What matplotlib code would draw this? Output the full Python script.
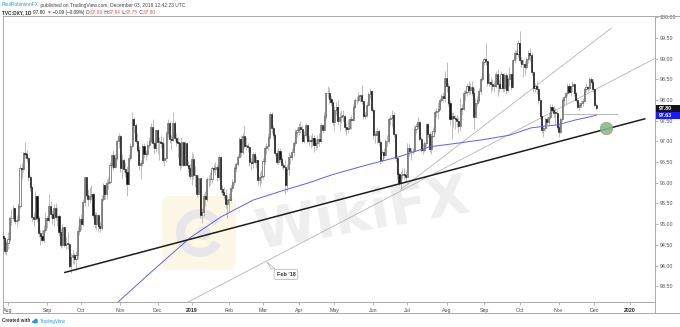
import matplotlib.pyplot as plt
import matplotlib.patches as mpatches
import matplotlib.transforms as mtransforms
import numpy as np
import pandas as pd

# daily candles, one line per month (Jul 27 2018 .. Dec 3 2019)
closes = [
    94.67, 94.35, 94.54,
    94.65, 95.15, 95.14, 95.39, 95.08, 95.11, 95.44, 96.36, 96.34, 96.71, 96.69, 96.59, 96.13, 95.89, 95.18, 95.12, 95.68, 95.15, 94.78, 94.71, 94.61, 94.85, 95.14,
    95.10, 95.45, 95.25, 95.16, 95.40, 95.18, 95.20, 94.80, 94.50, 94.93, 94.50, 94.53, 94.52, 93.99, 94.21, 94.26, 94.15, 94.26, 94.84, 95.13,
    95.00, 95.53, 96.13, 95.70, 95.60, 95.68, 95.73, 95.22, 95.00, 95.22, 94.95, 94.91, 95.60, 95.94, 95.72, 96.00, 96.03, 96.42, 96.66, 96.38, 96.61, 97.00, 97.13,
    96.35, 96.54, 96.34, 96.26, 95.98, 96.61, 96.90, 97.55, 97.39, 97.01, 96.80, 96.43, 96.48, 96.89, 96.70, 96.70, 96.92, 97.00, 97.36, 96.96, 96.83, 97.27,
    96.99, 96.99, 96.97, 96.56, 96.59, 97.20, 97.44, 97.06, 97.04, 97.44, 97.09, 96.98, 96.95, 96.42, 96.98, 96.43, 96.96, 96.44, 96.35, 96.17,
    96.58, 96.18, 96.19, 95.73, 96.12, 95.23, 95.29, 95.67, 95.62, 96.08, 96.09, 96.08, 96.36, 96.34, 96.37, 96.14, 96.62, 95.84, 95.78, 95.71, 95.48, 95.58,
    95.58, 95.87, 96.01, 96.35, 96.46, 96.63, 97.06, 96.75, 97.14, 96.90, 96.90, 96.87, 96.50, 96.47, 96.69, 96.51, 96.54, 96.07, 96.14, 96.16,
    96.52, 96.83, 96.89, 97.11, 97.66, 97.32, 97.15, 96.72, 96.50, 96.78, 96.58, 96.42, 96.38, 95.94, 96.34, 96.63, 96.63, 96.74, 96.95, 97.22, 97.28,
    97.34, 97.30, 97.00, 97.15, 97.39, 97.01, 97.03, 97.00, 97.08, 96.92, 96.97, 97.07, 97.02, 97.40, 97.28, 97.62, 98.16, 98.18, 98.02, 97.95, 97.48,
    97.76, 97.83, 97.49, 97.60, 97.62, 97.62, 97.35, 97.30, 97.33, 97.53, 97.52, 97.84, 97.99, 98.01, 98.09, 98.11, 97.98, 97.62, 97.63, 97.88, 98.15, 98.22, 97.75,
    97.15, 97.15, 97.26, 96.98, 96.54, 96.74, 96.68, 97.00, 97.01, 97.55, 97.57, 97.64, 97.17, 96.61, 96.21, 95.99, 96.18, 96.21, 96.20, 96.13,
    96.85, 96.77, 96.76, 96.78, 97.29, 97.37, 97.48, 97.07, 96.80, 96.80, 96.95, 97.41, 97.19, 96.82, 97.14, 97.26, 97.70, 97.73, 97.79, 98.00, 98.10, 98.06, 98.52,
    98.34, 97.93, 97.53, 97.62, 97.57, 97.55, 97.49, 97.38, 97.79, 97.78, 98.17, 98.20, 98.34, 98.24, 98.31, 98.18, 97.60, 97.92, 98.00, 98.21, 98.51, 98.92,
    99.00, 98.95, 98.42, 98.44, 98.38, 98.34, 98.35, 98.62, 98.39, 98.29, 98.63, 98.28, 98.60, 98.24, 98.50, 98.62, 98.31, 98.97, 99.14, 99.11, 99.38,
    98.97, 98.87, 98.86, 98.79, 98.98, 99.13, 99.09, 98.68, 98.30, 98.33, 98.27, 97.99, 97.61, 97.28, 97.33, 97.53, 97.47, 97.60, 97.83, 97.77, 97.69, 97.68, 97.35,
    97.23, 97.54, 97.99, 98.07, 98.16, 98.35, 98.19, 98.33, 98.38, 98.17, 98.00, 97.83, 97.87, 97.94, 97.97, 98.27, 98.31, 98.28, 98.51, 98.44, 98.27,
    97.89, 97.80,
]
highs = [
    94.80, 94.70, 94.62,
    94.80, 95.20, 95.36, 95.46, 95.40, 95.22, 95.50, 96.45, 96.49, 96.75, 96.98, 96.79, 96.62, 96.20, 95.92, 95.30, 95.80, 95.70, 95.20, 94.85, 94.86, 94.98, 95.29,
    95.20, 95.73, 95.55, 95.35, 95.48, 95.50, 95.42, 95.25, 94.90, 95.00, 94.95, 94.70, 94.80, 94.55, 94.30, 94.40, 94.30, 94.35, 94.95, 95.20,
    95.25, 95.60, 96.15, 96.15, 95.85, 95.90, 95.95, 95.75, 95.30, 95.30, 95.25, 95.05, 95.70, 96.00, 95.98, 96.10, 96.15, 96.50, 96.70, 96.80, 96.70, 97.05, 97.20,
    97.15, 96.70, 96.60, 96.50, 96.40, 96.70, 96.95, 97.70, 97.60, 97.45, 97.20, 96.90, 96.55, 96.95, 96.95, 96.80, 97.00, 97.10, 97.45, 97.55, 97.00, 97.30,
    97.30, 97.10, 97.15, 97.10, 96.95, 97.25, 97.55, 97.50, 97.15, 97.71, 97.50, 97.20, 97.10, 96.95, 97.10, 96.95, 97.00, 96.95, 96.55, 96.45,
    96.75, 96.70, 96.40, 96.20, 96.20, 96.10, 95.40, 95.75, 95.80, 96.15, 96.20, 96.25, 96.40, 96.45, 96.50, 96.45, 96.68, 96.65, 95.95, 95.90, 95.85, 95.70,
    95.75, 95.95, 96.10, 96.40, 96.50, 96.70, 97.10, 97.15, 97.20, 97.37, 97.10, 96.95, 96.90, 96.60, 96.75, 96.75, 96.65, 96.55, 96.25, 96.30,
    96.60, 96.90, 96.95, 97.20, 97.71, 97.70, 97.40, 97.20, 96.80, 96.85, 96.85, 96.65, 96.50, 96.55, 96.45, 96.75, 96.70, 96.85, 97.00, 97.30, 97.35,
    97.45, 97.50, 97.40, 97.25, 97.45, 97.40, 97.15, 97.15, 97.20, 97.15, 97.05, 97.15, 97.20, 97.45, 97.40, 97.70, 98.20, 98.33, 98.30, 98.10, 97.95,
    97.85, 97.95, 98.00, 97.70, 97.75, 97.75, 97.65, 97.45, 97.55, 97.60, 97.65, 97.90, 98.05, 98.10, 98.20, 98.15, 98.37, 98.00, 97.70, 97.95, 98.20, 98.30, 98.25,
    97.80, 97.25, 97.35, 97.30, 97.05, 96.80, 96.85, 97.05, 97.15, 97.60, 97.65, 97.75, 97.70, 97.15, 96.65, 96.25, 96.25, 96.35, 96.35, 96.30,
    96.95, 96.95, 96.85, 96.85, 97.40, 97.45, 97.58, 97.50, 97.10, 96.95, 97.00, 97.45, 97.45, 97.25, 97.20, 97.35, 97.75, 97.80, 97.95, 98.05, 98.15, 98.20, 98.70,
    98.93, 98.40, 98.00, 97.70, 97.70, 97.65, 97.65, 97.60, 98.05, 97.90, 98.25, 98.25, 98.40, 98.45, 98.40, 98.45, 98.30, 98.05, 98.10, 98.30, 98.55, 98.95,
    99.05, 99.37, 98.95, 98.65, 98.55, 98.50, 98.45, 98.70, 98.75, 98.50, 98.70, 98.65, 98.65, 98.65, 98.55, 98.80, 98.65, 99.00, 99.20, 99.20, 99.45,
    99.67, 99.05, 99.00, 98.95, 99.05, 99.20, 99.25, 99.15, 98.70, 98.40, 98.45, 98.35, 98.05, 97.65, 97.40, 97.60, 97.60, 97.70, 97.90, 97.90, 97.85, 97.80, 97.75,
    97.45, 97.60, 98.05, 98.10, 98.20, 98.40, 98.40, 98.35, 98.45, 98.40, 98.20, 98.05, 97.95, 98.00, 98.05, 98.30, 98.40, 98.35, 98.55, 98.55, 98.50,
    98.30, 97.94,
]
lows = [
    94.30, 94.28, 94.25,
    94.40, 94.60, 94.98, 95.10, 95.00, 94.94, 95.05, 95.40, 96.10, 96.25, 96.60, 96.50, 96.05, 95.80, 95.05, 94.95, 95.10, 95.05, 94.70, 94.50, 94.58, 94.55, 94.80,
    94.90, 95.05, 95.15, 95.00, 94.95, 95.10, 94.95, 94.72, 94.42, 94.45, 94.45, 94.40, 94.40, 93.95, 93.81, 94.05, 94.05, 93.90, 94.15, 94.75,
    94.85, 94.95, 95.45, 95.65, 95.45, 95.50, 95.58, 95.15, 94.90, 94.85, 94.80, 94.80, 94.85, 95.55, 95.60, 95.60, 95.85, 95.98, 96.35, 96.30, 96.35, 96.55, 96.85,
    96.25, 96.10, 96.25, 96.15, 95.68, 95.95, 96.55, 96.85, 97.20, 96.95, 96.75, 96.30, 96.10, 96.40, 96.60, 96.55, 96.65, 96.85, 96.95, 96.85, 96.70, 96.75,
    96.70, 96.55, 96.85, 96.50, 96.40, 96.50, 97.10, 96.95, 96.80, 97.00, 97.00, 96.90, 96.60, 96.30, 96.35, 96.40, 96.40, 96.40, 96.25, 96.10,
    95.95, 96.10, 95.90, 95.65, 95.70, 95.15, 95.03, 95.20, 95.45, 95.55, 95.90, 95.95, 96.00, 96.25, 96.20, 96.05, 96.10, 95.75, 95.70, 95.60, 95.40, 95.16,
    95.30, 95.55, 95.80, 95.95, 96.25, 96.40, 96.60, 96.65, 96.70, 96.85, 96.80, 96.75, 96.40, 96.30, 96.35, 96.45, 96.35, 95.95, 95.90, 96.00,
    96.10, 96.45, 96.70, 96.80, 97.05, 97.20, 97.05, 96.65, 96.45, 96.45, 96.50, 96.35, 96.30, 95.74, 95.80, 96.20, 96.45, 96.55, 96.65, 96.90, 97.10,
    97.15, 97.20, 96.95, 96.95, 97.10, 96.95, 96.90, 96.85, 96.90, 96.75, 96.80, 96.85, 96.90, 96.95, 97.20, 97.25, 97.55, 98.05, 97.90, 97.85, 97.40,
    97.25, 97.65, 97.40, 97.25, 97.45, 97.50, 97.25, 97.15, 97.20, 97.30, 97.30, 97.50, 97.80, 97.90, 97.95, 97.95, 97.90, 97.55, 97.55, 97.60, 97.85, 98.05, 97.70,
    97.05, 96.95, 96.95, 96.90, 96.46, 96.50, 96.60, 96.65, 96.90, 96.95, 97.40, 97.35, 97.10, 96.50, 96.10, 95.95, 95.84, 96.10, 96.10, 96.05,
    96.35, 96.65, 96.55, 96.70, 96.75, 97.20, 97.30, 97.00, 96.75, 96.70, 96.75, 96.90, 97.10, 96.75, 96.70, 97.10, 97.20, 97.60, 97.55, 97.75, 97.95, 97.95, 97.95,
    98.20, 97.85, 97.40, 97.05, 97.35, 97.30, 97.35, 97.20, 97.25, 97.65, 97.75, 98.00, 98.10, 98.15, 98.15, 98.10, 97.30, 97.65, 97.85, 97.95, 98.15, 98.45,
    98.85, 98.85, 98.35, 98.35, 98.20, 98.25, 98.20, 98.30, 98.10, 98.20, 98.30, 98.20, 98.20, 98.15, 98.20, 98.35, 98.25, 98.30, 98.90, 99.00, 99.05,
    98.90, 98.80, 98.55, 98.60, 98.75, 98.90, 98.95, 98.60, 98.20, 98.20, 98.15, 97.90, 97.55, 97.20, 97.10, 97.25, 97.40, 97.40, 97.55, 97.70, 97.60, 97.40, 97.30,
    97.10, 97.20, 97.50, 97.85, 97.90, 98.10, 98.15, 98.10, 98.20, 98.10, 97.95, 97.80, 97.75, 97.80, 97.85, 97.95, 98.20, 98.20, 98.25, 98.40, 98.20,
    97.85, 97.75,
]
first_open = 94.72

# 200-day moving average (blue), sampled off the chart
sma_dates = ['2018-10-31', '2018-11-26', '2018-12-31', '2019-01-25', '2019-02-21', '2019-03-20',
             '2019-04-09', '2019-04-30', '2019-05-28', '2019-06-24', '2019-07-18', '2019-08-12',
             '2019-08-30', '2019-09-23', '2019-10-10', '2019-10-31', '2019-11-15', '2019-12-03']
sma_values = [93.13, 93.80, 94.67, 95.17, 95.58, 95.83, 96.00, 96.20, 96.43, 96.63, 96.87, 96.96,
              97.04, 97.15, 97.33, 97.40, 97.52, 97.63]

# drawn trendlines (date, price)
trend_black = [('2018-09-17', 93.83), ('2020-01-15', 97.55)]
trend_steep = [('2019-06-25', 95.84), ('2019-12-16', 99.74)]
trend_feb18 = [('2018-12-27', 93.10), ('2019-10-01', 97.30)]
support_line = [('2019-11-06', 97.66), ('2019-12-19', 97.66)]
circle_point = ('2019-12-11', 97.33)

last_close = 97.80
last_sma = 97.63
y_ticks = np.arange(93.5, 100.01, 0.5)

FONT = ['Liberation Sans', 'DejaVu Sans']
plt.rcParams['font.family'] = FONT

holidays = pd.to_datetime(['2018-12-25', '2019-01-01', '2019-04-19', '2019-12-25', '2020-01-01'])
cal = pd.bdate_range('2018-07-27', '2020-02-28')
cal = cal[~cal.isin(holidays)]
pos = pd.Series(np.arange(len(cal)), index=cal)
assert len(closes) == len(highs) == len(lows), (len(closes), len(highs), len(lows))
assert cal[len(closes) - 1] == pd.Timestamp('2019-12-03'), cal[len(closes) - 1]


def bar(d):
    return pos[pd.Timestamp(d)]


W, H = 680, 327
fig = plt.figure(figsize=(W / 100, H / 100), dpi=100)
fig.patch.set_facecolor('white')
L, R, T, B = 2.5, 655, 16, 302
ax = fig.add_axes([L / W, 1 - B / H, (R - L) / W, (B - T) / H])
ax.set_facecolor('none')
ax.set_xlim(-0.25, 383.6)
ax.set_ylim(93.12, 100.03)
inch = fig.dpi_scale_trans


def px(x, y):
    # pixel (from top-left) -> inches for dpi_scale_trans
    return x / 100, (H - y) / 100


# watermark
logo = mpatches.FancyBboxPatch(px(162, 270), 0.74, 0.74, boxstyle='round,pad=0,rounding_size=0.08',
                               transform=inch, fc='#fcf6e4', ec='none', zorder=0.2)
ax.add_patch(logo)
ax.add_patch(mpatches.Wedge(px(200, 233), 0.24, 30, 330, width=0.09, transform=inch,
                            fc='#e9e6eb', ec='none', zorder=0.3))
ax.add_patch(mpatches.Circle(px(204, 233), 0.07, transform=inch, fc='#e9e6eb', ec='none', zorder=0.3))
ax.text(*px(362, 215), 'WikiFX', transform=inch, fontsize=40, fontweight='bold', color='#eeeeee',
        ha='center', va='center', rotation=10, family='DejaVu Sans', zorder=0.3)

# candles
x = np.arange(len(closes))
c = np.array(closes)
o = np.r_[first_open, c[:-1]]
up = c >= o
ax.vlines(x, lows, highs, color='#a3a3a3', lw=0.5, zorder=3)
lo = np.minimum(o, c)
hgt = np.maximum(np.abs(c - o), 0.02)
ax.bar(x[up], hgt[up], bottom=lo[up], width=0.68, color='white', edgecolor='#333333', linewidth=0.4, zorder=4)
ax.bar(x[~up], hgt[~up], bottom=lo[~up], width=0.68, color='#111111', edgecolor='#111111', linewidth=0.4, zorder=4)

# moving average and drawings
ax.plot([bar(d) for d in sma_dates], sma_values, color='#5f5ff2', lw=0.7, zorder=5)
ax.plot([bar(d) for d, _ in trend_black], [p for _, p in trend_black], color='#1c1c1c', lw=1.1, zorder=6,
        solid_capstyle='butt')
ax.plot([bar(d) for d, _ in trend_steep], [p for _, p in trend_steep], color='#b4b4b4', lw=0.6, zorder=2)
ax.axline((bar(trend_feb18[0][0]), trend_feb18[0][1]), (bar(trend_feb18[1][0]), trend_feb18[1][1]),
          color='#b4b4b4', lw=0.6, zorder=2)
ax.plot([bar(d) for d, _ in support_line], [p for _, p in support_line], color='#a8a8a8', lw=0.6, zorder=2)
ax.scatter([bar(circle_point[0])], [circle_point[1]], s=80, color='#8cb88c', edgecolor='#77a577',
           linewidth=0.5, alpha=0.9, zorder=7)

# "Feb '18" callout
ax.add_patch(mpatches.Polygon([px(267, 262), px(271, 269), px(275, 269)], closed=True, transform=inch,
                              fc='white', ec='#9a9a9a', lw=0.4, zorder=8, clip_on=False))
ax.text(*px(286, 274.5), "Feb '18", transform=inch, fontsize=4, fontweight='bold', color='#333333',
        ha='center', va='center', zorder=9,
        bbox=dict(boxstyle='round,pad=0.45,rounding_size=0.3', fc='white', ec='#9a9a9a', lw=0.4))

# axes styling
for s in ax.spines.values():
    s.set_color('#a9a9a9')
    s.set_linewidth(0.7)
ax.set_yticks(y_ticks)
ax.set_yticklabels([f'{v:.2f}' for v in y_ticks])
ax.tick_params(axis='y', left=False, right=True, labelleft=False, labelright=True, length=2, width=0.5,
               color='#9a9a9a', labelsize=3.8, labelcolor='#4d4d4d', pad=1.5)

months = pd.period_range('2018-08', '2020-01', freq='M')
mpos, mlab = [], []
for m in months:
    first = cal[cal >= m.start_time][0]
    mpos.append(pos[first])
    mlab.append(str(m.year) if m.month == 1 else m.strftime('%b'))
ax.set_xticks(mpos)
ax.set_xticklabels(mlab)
ax.tick_params(axis='x', length=2, width=0.5, color='#9a9a9a', labelsize=3.8, labelcolor='#4d4d4d', pad=2)
for t in ax.get_xticklabels():
    if t.get_text().isdigit():
        t.set_color('#222222')
        t.set_fontweight('bold')

# price labels on the right scale
blend = mtransforms.blended_transform_factory(inch, ax.transData)
unit = (B - T) / (100.03 - 93.12)
for val, col in [(last_close, '#131313'), (last_sma, '#1a1aff')]:
    r = mpatches.Rectangle((655.5 / 100, val - 3.6 / unit), 24 / 100, 7.2 / unit, transform=blend,
                           fc=col, ec='none', zorder=10)
    ax.add_patch(r)
    r.set_clip_on(False)
    ax.text(659 / 100, val, f'{val:.2f}', transform=blend, fontsize=3.8, fontweight='bold', color='white',
            ha='left', va='center', zorder=11)

# outer frame of the chart window
frame = dict(color='#a9a9a9', lw=0.7, transform=inch, clip_on=False)
for xs, ys in [([655, 679.5], [16, 16]), ([679.5, 679.5], [16, 313]), ([2.5, 679.5], [313, 313]),
               ([2.5, 2.5], [302, 313]), ([655, 655], [302, 313])]:
    ax.plot([v / 100 for v in xs], [(H - v) / 100 for v in ys], **frame)

# header
r = fig.canvas.get_renderer()


def line(x0, y0, parts, size):
    xx = x0
    for txt, col, wt in parts:
        t = fig.text(xx / W, 1 - y0 / H, txt, fontsize=size, color=col, fontweight=wt, va='center', ha='left')
        xx = t.get_window_extent(r).x1
    return xx


line(2, 5, [('PaulRobinsonFX', '#2196f3', 'normal'),
            (' published on TradingView.com, December 03, 2019 12:42:23 UTC', '#444444', 'normal')], 3.5)
red = '#ef5350'
line(2, 12.5, [('TVC:DXY, 1D ', '#222222', 'bold'), ('97.80 ', '#222222', 'normal'), ('▼', red, 'normal'),
               (' \u22120.09 (\u22120.09%) O:', '#222222', 'normal'), ('97.89', red, 'normal'),
               (' H:', '#222222', 'normal'), ('97.94', red, 'normal'), (' L:', '#222222', 'normal'),
               ('97.75', red, 'normal'), (' C:', '#222222', 'normal'), ('97.80', red, 'normal')], 3.4)

# footer
x_end = line(2, 321, [('Created with ', '#333333', 'bold')], 3.3)
ax.add_patch(mpatches.Ellipse(px(x_end + 3.5, 321.8), 0.06, 0.032, transform=inch, fc='#2196f3', ec='none',
                              clip_on=False))
ax.add_patch(mpatches.Circle(px(x_end + 4.5, 320.3), 0.017, transform=inch, fc='#2196f3', ec='none',
                             clip_on=False))
line(x_end + 8, 321, [('TradingView', '#2196f3', 'normal')], 3.3)

fig.savefig('out.png', dpi=100)
